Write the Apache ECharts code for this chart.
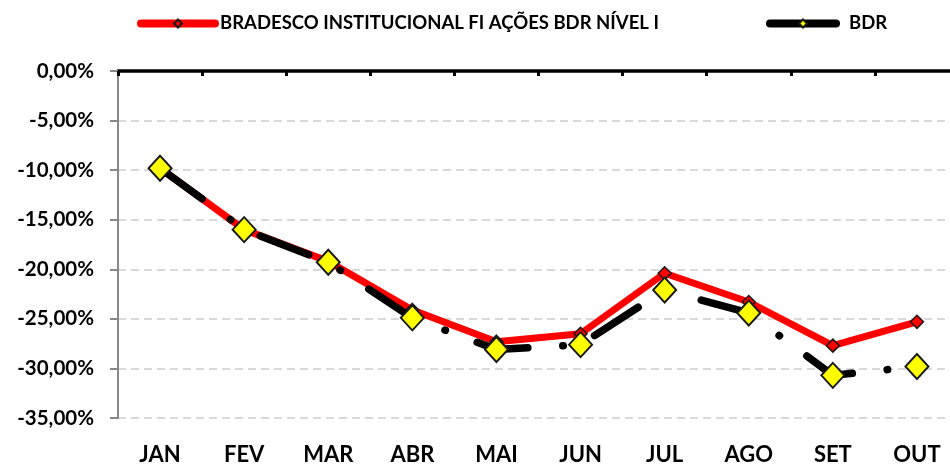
<!DOCTYPE html>
<html>
<head>
<meta charset="utf-8">
<script src="https://cdn.jsdelivr.net/npm/echarts@6/dist/echarts.min.js"></script>
<style>
  html, body { margin: 0; padding: 0; background: #fff; overflow: hidden; }
  /* the plot runs slightly past the right edge of the page */
  #chart { width: 959px; height: 466px; }
</style>
</head>
<body>
<div id="chart"></div>
<script>
// Monthly returns (%) of the fund versus the BDR benchmark
const months = ['JAN', 'FEV', 'MAR', 'ABR', 'MAI', 'JUN', 'JUL', 'AGO', 'SET', 'OUT'];
const fundName = 'BRADESCO INSTITUCIONAL FI AÇÕES BDR NÍVEL I';
const benchName = 'BDR';
const fundValues = [-9.8, -16.0, -19.2, -24.1, -27.3, -26.5, -20.4, -23.3, -27.7, -25.3];
const benchValues = [-9.8, -16.0, -19.3, -24.9, -28.1, -27.6, -22.1, -24.4, -30.7, -29.8];

const FONT = 'Lato, "Liberation Sans", sans-serif';

function pct(v) {
  return v.toFixed(2).replace('.', ',') + '%';
}

const chart = echarts.init(document.getElementById('chart'), null, { renderer: 'canvas' });

chart.setOption({
  animation: false,
  backgroundColor: '#ffffff',
  textStyle: { fontFamily: FONT, color: '#000' },
  legend: [
    {
      data: [fundName],
      left: 137, top: 14, padding: 0,
      itemWidth: 74, itemHeight: 10, itemGap: 0,
      lineStyle: { type: 'solid', width: 8, cap: 'round' },
      textStyle: { fontFamily: FONT, fontWeight: 'bold', fontSize: 18.5, color: '#000' }
    },
    {
      data: [benchName],
      left: 766, top: 14, padding: 0,
      itemWidth: 66, itemHeight: 10, itemGap: 0,
      lineStyle: { type: 'solid', width: 8, cap: 'round' },
      textStyle: { fontFamily: FONT, fontWeight: 'bold', fontSize: 18.5, color: '#000', padding: [0, 0, 0, 8] }
    }
  ],
  grid: { left: 118, top: 71, width: 841, height: 350, containLabel: false },
  xAxis: [
    {
      // axis line drawn along the zero level, at the top
      type: 'category', data: months, position: 'top', boundaryGap: true,
      axisLine: { show: true, lineStyle: { color: '#000', width: 3.5 } },
      axisTick: { show: true, inside: true, length: 5, lineStyle: { color: '#000', width: 3 } },
      axisLabel: { show: false },
      splitLine: { show: false }
    },
    {
      // month labels along the bottom
      type: 'category', data: months, position: 'bottom', boundaryGap: true,
      axisLine: { show: false }, axisTick: { show: false },
      axisLabel: { show: true, margin: 26, fontFamily: FONT, fontWeight: 'bold', fontSize: 22, color: '#000' },
      splitLine: { show: false }
    }
  ],
  yAxis: {
    type: 'value', min: -35, max: 0, interval: 5,
    axisLine: { show: true, lineStyle: { color: '#888888', width: 2 } },
    axisTick: { show: true, inside: false, length: 8, lineStyle: { color: '#888888', width: 2 } },
    axisLabel: {
      margin: 24, fontFamily: FONT, fontWeight: 'bold', fontSize: 20.5, color: '#000',
      formatter: pct
    },
    splitLine: { show: true, lineStyle: { color: '#d9d9d9', width: 2, type: [8, 5] } }
  },
  series: [
    {
      name: fundName, type: 'line', data: fundValues, xAxisIndex: 0,
      symbol: 'diamond', symbolSize: 13,
      itemStyle: { color: '#ff0000', borderColor: '#1a1a1a', borderWidth: 1.5 },
      lineStyle: { color: '#ff0000', width: 7, cap: 'round', join: 'round' },
      z: 2
    },
    {
      name: benchName, type: 'line', data: benchValues, xAxisIndex: 0,
      symbol: 'diamond', symbolSize: [23, 25],
      itemStyle: { color: '#ffff00', borderColor: '#1a1a1a', borderWidth: 2 },
      lineStyle: { color: '#000', width: 7.5, type: [52, 35, 0.5, 34], cap: 'round', join: 'round' },
      z: 3
    }
  ]
});
</script>
</body>
</html>
